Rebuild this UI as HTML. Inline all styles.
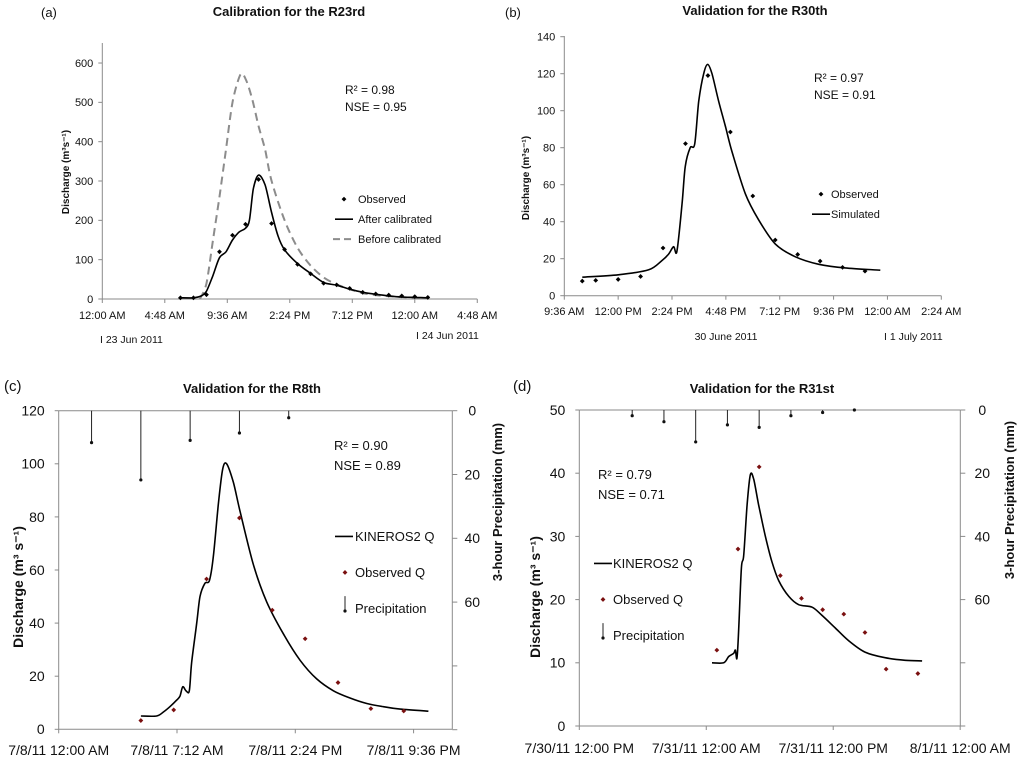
<!DOCTYPE html>
<html><head><meta charset="utf-8"><style>
body{margin:0;background:#fff;}
svg text{font-family:"Liberation Sans",sans-serif;fill:#111;}
</style></head><body>
<svg id="fig" width="1024" height="759" viewBox="0 0 1024 759" xmlns="http://www.w3.org/2000/svg"></svg>
<script>
// ---- Panel (a) data ----
const aObsH = [6,7,8,9,10,11,12,13,14,15,16,17,18,19,20,21,22,23,24,25];
const aObsV = [3,3,11,120,162,190,304,192,126,88,64,40,36,27,17,13,10,8,6,4];
const aAfterH = [6,7,7.6,8,8.5,9,9.5,10,10.5,11,11.3,11.6,12,12.5,13,13.5,14,15,16,17,18,19,20,21,22,23,24,25];
const aAfterV = [3,3,8,20,60,105,120,150,170,180,200,280,315,290,220,160,125,90,65,42,35,25,17,12,8,5,4,3];
const aBeforeH = [7.5,8,8.5,9,9.5,10,10.6,11,11.5,12,12.5,13,14,15,16,17,18,19,20,21,22,23,24];
const aBeforeV = [0,40,150,260,380,500,570,560,510,440,380,300,200,130,85,55,37,25,15,10,7,5,3];
const aYTicks = [0,100,200,300,400,500,600];
const aXTickH = [0,4.8,9.6,14.4,19.2,24,28.8];
const aXTickL = ["12:00 AM","4:48 AM","9:36 AM","2:24 PM","7:12 PM","12:00 AM","4:48 AM"];
// ---- Panel (b) data ----
const bObsH = [10.4,11,12,13,14,15,16,17,18,19,20,21,22,23];
const bObsV = [7.9,8.3,8.8,10.4,25.8,82.2,119,88.5,53.9,30.1,22.3,18.7,15.3,13.3];
const bSimH = [10.4,12.0,13.36,13.95,14.25,14.47,14.62,14.85,14.99,15.21,15.41,15.59,15.81,15.99,16.18,16.48,16.77,17.07,17.67,18.26,19.0,19.9,20.94,22.12,23.68];
const bSimV = [10,11.3,14,19,22.5,26.5,24,50,70,80,82,105,120,125,120,105,92,78,55,41,28,21,17,15,13.8];
const bYTicks = [0,20,40,60,80,100,120,140];
const bXTickH = [9.6,12,14.4,16.8,19.2,21.6,24,26.4];
const bXTickL = ["9:36 AM","12:00 PM","2:24 PM","4:48 PM","7:12 PM","9:36 PM","12:00 AM","2:24 AM"];
// ---- Panel (c) data ----
const cPrecH = [2,5,8,11,14];
const cPrecV = [10,21.7,9.3,7,2.2];
const cObsH = [5,7,9,11,13,15,17,19,21];
const cObsV = [3.3,7.3,56.6,79.6,44.9,34.1,17.6,7.8,6.9];
const cSimH = [5,5.96,6.37,6.77,7.18,7.38,7.55,7.75,7.95,8.09,8.4,8.6,8.9,9.17,9.41,9.72,9.98,10.22,10.63,11.04,11.85,12.66,13.67,14.69,15.7,16.72,17.73,18.75,19.76,20.78,22.5];
const cSimV = [5,5,6.5,8.5,11,12.5,16,14.5,14.5,25,40,50,55,56,65,85,98,100,93,82,62,48,36,26,19,14.5,11.8,9.7,8.5,7.6,6.8];
const cYTicks = [0,20,40,60,80,100,120];
const cRTicks = [0,20,40,60,80,100];
const cXTickH = [0,7.2,14.4,21.6];
const cXTickL = ["7/8/11 12:00 AM","7/8/11 7:12 AM","7/8/11 2:24 PM","7/8/11 9:36 PM"];
// ---- Panel (d) data ----
const dPrecH = [5,8,11,14,17,20,23,26];
const dPrecV = [1.8,3.7,10.1,4.7,5.5,1.8,0.8,0];
const dObsH = [13,15,17,19,21,23,25,27,29,32];
const dObsV = [12,28,41,23.8,20.2,18.4,17.7,14.8,9,8.3];
const dSimH = [12.54,13.65,14.12,14.59,14.75,14.9,15.06,15.32,15.54,15.86,16.17,16.49,16.95,17.59,18.2,18.85,19.8,20.74,22.0,22.94,24.2,25.46,27.0,28.9,30.8,32.4];
const dSimV = [10,10,11,11.5,12,10.7,15,25,27,35,39.8,39,35,30,26,23,20.5,19.2,18.8,17.5,15.5,13.5,11.7,10.8,10.4,10.3];
const dYTicks = [0,10,20,30,40,50];
const dRTicks = [0,20,40,60,80,100];
const dXTickH = [0,12,24,36];
const dXTickL = ["7/30/11 12:00 PM","7/31/11 12:00 AM","7/31/11 12:00 PM","8/1/11 12:00 AM"];

const NS="http://www.w3.org/2000/svg";
const svg=document.getElementById('fig');
function mk(tag,attrs,parent){const e=document.createElementNS(NS,tag);for(const k in attrs)e.setAttribute(k,attrs[k]);(parent||svg).appendChild(e);return e;}
function txt(s,x,y,size,opts,parent){const o=Object.assign({x:x,y:y,'font-size':size},opts||{});const e=mk('text',o,parent);e.textContent=s;return e;}
function pathD(hs,vs,X,Y){
  const p=hs.map((h,i)=>[X(h),Y(vs[i])]);const k=0.15;
  let d='M'+p[0][0].toFixed(1)+','+p[0][1].toFixed(1);
  for(let i=0;i<p.length-1;i++){
    const p0=p[i-1]||p[i],p1=p[i],p2=p[i+1],p3=p[i+2]||p2;
    const c1x=p1[0]+(p2[0]-p0[0])*k,c1y=p1[1]+(p2[1]-p0[1])*k;
    const c2x=p2[0]-(p3[0]-p1[0])*k,c2y=p2[1]-(p3[1]-p1[1])*k;
    d+=` C${c1x.toFixed(1)},${c1y.toFixed(1)} ${c2x.toFixed(1)},${c2y.toFixed(1)} ${p2[0].toFixed(1)},${p2[1].toFixed(1)}`;
  }
  return d;
}
function diamond(g,x,y,r,color){return mk('path',{d:`M${x},${y-r} L${x+r},${y} L${x},${y+r} L${x-r},${y} Z`,fill:color},g);}

function panel(cfg){
  const g=mk('g',{});
  
  
  const ax='#8a8a8a';
  const yl=mk('line',{x1:cfg.x0,y1:cfg.yTop,x2:cfg.x0,y2:cfg.yBot,stroke:ax,'stroke-width':1},g);
  
  
  const xl=mk('line',{x1:cfg.x0,y1:cfg.yBot,x2:cfg.x1,y2:cfg.yBot,stroke:ax,'stroke-width':1},g);
  
  
  cfg.yTicks.forEach(v=>{
    const y=cfg.Y(v);
    mk('line',{x1:cfg.x0-4,y1:y,x2:cfg.x0,y2:y,stroke:ax},g);
    const t=txt(String(v),cfg.x0-cfg.ylOff,y+cfg.fs*0.35,cfg.fs,{'text-anchor':'end'},g);
    
    
  });
  cfg.xTickH.forEach((h,i)=>{
    const x=cfg.X(h);
    mk('line',{x1:x,y1:cfg.yBot,x2:x,y2:cfg.yBot+4,stroke:ax},g);
    const t=txt(cfg.xTickL[i],x,cfg.xlY,cfg.fs,{'text-anchor':'middle'},g);
    
    
  });
  if(cfg.P){
    const top=mk('line',{x1:cfg.x0,y1:cfg.yTop,x2:cfg.x1,y2:cfg.yTop,stroke:ax},g);
    
    
    const ra=mk('line',{x1:cfg.x1,y1:cfg.yTop,x2:cfg.x1,y2:cfg.yBot,stroke:ax},g);
    
    
    cfg.rTicks.forEach(v=>{
      const y=cfg.P(v);
      mk('line',{x1:cfg.x1,y1:y,x2:cfg.x1+5,y2:y,stroke:ax},g);
      if(v<=60){const t=txt(String(v),cfg.x1+cfg.rlOff,y+cfg.fs*0.35,cfg.fs,{'text-anchor':'middle'},g);
      
      }
    });
    cfg.precH.forEach((h,i)=>{
      const x=cfg.X(h),y=cfg.P(cfg.precV[i]);
      const b=mk('line',{x1:x,y1:cfg.yTop,x2:x,y2:y,stroke:'#222','stroke-width':1},g);
      
      
      mk('circle',{cx:x,cy:y,r:1.6,fill:'#111'},g);
    });
  }
  if(cfg.dashH){
    const p=mk('path',{d:pathD(cfg.dashH,cfg.dashV,cfg.X,cfg.Y),fill:'none',stroke:'#8c8c8c','stroke-width':2,'stroke-dasharray':'8,5'},g);
    
    
  }
  const s=mk('path',{d:pathD(cfg.simH,cfg.simV,cfg.X,cfg.Y),fill:'none',stroke:'#000','stroke-width':1.6},g);
  
  
  cfg.obsH.forEach((h,i)=>{
    const d=diamond(g,cfg.X(h),cfg.Y(cfg.obsV[i]),2.4,cfg.obsColor);
    
    
  });
  return g;
}

panel({name:'panel-a',x0:102.3,x1:477.3,yTop:43,yBot:299,X:h=>102.3+h*13.02,Y:v=>299-v*0.3933,
  yTicks:aYTicks,xTickH:aXTickH,xTickL:aXTickL,fs:11,ylOff:9,xlY:319,
  simH:aAfterH,simV:aAfterV,dashH:aBeforeH,dashV:aBeforeV,obsH:aObsH,obsV:aObsV,obsColor:'#000'});
panel({name:'panel-b',x0:564.3,x1:941.3,yTop:36,yBot:295.7,X:h=>564.3+(h-9.6)*22.44,Y:v=>295.7-v*1.85,
  yTicks:bYTicks,xTickH:bXTickH,xTickL:bXTickL,fs:11,ylOff:9,xlY:315,
  simH:bSimH,simV:bSimV,obsH:bObsH,obsV:bObsV,obsColor:'#000'});
panel({name:'panel-c',x0:58.7,x1:452.3,yTop:410.7,yBot:729.3,X:h=>58.7+h*16.43,Y:v=>729.3-v*2.655,P:m=>410.7+m*3.19,
  yTicks:cYTicks,rTicks:cRTicks,xTickH:cXTickH,xTickL:cXTickL,fs:14,ylOff:14,rlOff:20,xlY:755,
  precH:cPrecH,precV:cPrecV,simH:cSimH,simV:cSimV,obsH:cObsH,obsV:cObsV,obsColor:'#7a1010'});
panel({name:'panel-d',x0:579.3,x1:960.3,yTop:410,yBot:726,X:h=>579.3+h*10.58,Y:v=>726-v*6.32,P:m=>410+m*3.16,
  yTicks:dYTicks,rTicks:dRTicks,xTickH:dXTickH,xTickL:dXTickL,fs:14,ylOff:14,rlOff:22,xlY:753,
  precH:dPrecH,precV:dPrecV,simH:dSimH,simV:dSimV,obsH:dObsH,obsV:dObsV,obsColor:'#7a1010'});

function label(name,s,x,y,size,opts){const t=txt(s,x,y,size,opts);return t;}
label('panel-a-tag','(a)',41,17,13);
label('panel-a-title','Calibration for the R23rd',289,16,13,{'text-anchor':'middle','font-weight':'bold'});
label('panel-a-r2','R² = 0.98',345,94,12);
label('panel-a-nse','NSE = 0.95',345,111,12);
label('panel-a-y-title','Discharge (m³s⁻¹)',0,0,10,{'text-anchor':'middle','font-weight':'bold',transform:'translate(69,172) rotate(-90)'});
label('panel-a-date1','I   23 Jun 2011',100,343,10.5);
label('panel-a-date2','I   24 Jun 2011',416,339,10.5);
label('panel-b-tag','(b)',505,17,13);
label('panel-b-title','Validation for the R30th',755,15,13,{'text-anchor':'middle','font-weight':'bold'});
label('panel-b-r2','R² = 0.97',814,82,12);
label('panel-b-nse','NSE = 0.91',814,99,12);
label('panel-b-y-title','Discharge (m³s⁻¹)',0,0,10,{'text-anchor':'middle','font-weight':'bold',transform:'translate(529,178) rotate(-90)'});
label('panel-b-date1','30 June 2011',726,340,10.5,{'text-anchor':'middle'});
label('panel-b-date2','I 1 July 2011',884,340,10.5);
label('panel-c-tag','(c)',4,391,15);
label('panel-c-title','Validation for the R8th',252,393,13,{'text-anchor':'middle','font-weight':'bold'});
label('panel-c-r2','R² = 0.90',334,450,13);
label('panel-c-nse','NSE =  0.89',334,470,13);
label('panel-c-y-title','Discharge (m³ s⁻¹)',0,0,14,{'text-anchor':'middle','font-weight':'bold',transform:'translate(23,587) rotate(-90)'});
label('panel-c-right-title','3-hour Precipitation (mm)',0,0,13,{'text-anchor':'middle','font-weight':'bold',transform:'translate(502,502) rotate(-90)'});
label('panel-d-tag','(d)',513,391,15);
label('panel-d-title','Validation for the R31st',762,393,13,{'text-anchor':'middle','font-weight':'bold'});
label('panel-d-r2','R² = 0.79',598,479,13);
label('panel-d-nse','NSE = 0.71',598,499,13);
label('panel-d-y-title','Discharge (m³ s⁻¹)',0,0,14,{'text-anchor':'middle','font-weight':'bold',transform:'translate(540,597) rotate(-90)'});
label('panel-d-right-title','3-hour Precipitation (mm)',0,0,13,{'text-anchor':'middle','font-weight':'bold',transform:'translate(1014,500) rotate(-90)'});

function legend(name,items){const g=mk('g',{});
  items.forEach(it=>{
    if(it.k==='dot'){diamond(g,it.mx,it.y-it.fs*0.35,2.4,it.c);}
    else if(it.k==='line'){mk('line',{x1:it.mx-9,y1:it.y-it.fs*0.35,x2:it.mx+9,y2:it.y-it.fs*0.35,stroke:'#000','stroke-width':1.6},g);}
    else if(it.k==='dash'){mk('line',{x1:it.mx-11,y1:it.y-it.fs*0.35,x2:it.mx+11,y2:it.y-it.fs*0.35,stroke:'#8c8c8c','stroke-width':2,'stroke-dasharray':'7,4'},g);}
    else if(it.k==='prec'){mk('line',{x1:it.mx,y1:it.y-it.fs*1.3,x2:it.mx,y2:it.y-2,stroke:'#222'},g);mk('circle',{cx:it.mx,cy:it.y-2,r:1.6,fill:'#111'},g);}
    const t=txt(it.s,it.tx,it.y,it.fs,{},g);
    
    
  });}
legend('panel-a-legend',[{k:'dot',mx:344,tx:358,y:203,fs:11,s:'Observed',c:'#000'},{k:'line',mx:344,tx:358,y:223,fs:11,s:'After calibrated'},{k:'dash',mx:344,tx:358,y:243,fs:11,s:'Before calibrated'}]);
legend('panel-b-legend',[{k:'dot',mx:821,tx:831,y:198,fs:11,s:'Observed',c:'#000'},{k:'line',mx:821,tx:831,y:218,fs:11,s:'Simulated'}]);
legend('panel-c-legend',[{k:'line',mx:344,tx:355,y:541,fs:13,s:'KINEROS2 Q'},{k:'dot',mx:345,tx:355,y:577,fs:13,s:'Observed Q',c:'#7a1010'},{k:'prec',mx:345,tx:355,y:613,fs:13,s:'Precipitation'}]);
legend('panel-d-legend',[{k:'line',mx:603,tx:613,y:568,fs:13,s:'KINEROS2 Q'},{k:'dot',mx:603,tx:613,y:604,fs:13,s:'Observed Q',c:'#7a1010'},{k:'prec',mx:603,tx:613,y:640,fs:13,s:'Precipitation'}]);
</script>
</body></html>
